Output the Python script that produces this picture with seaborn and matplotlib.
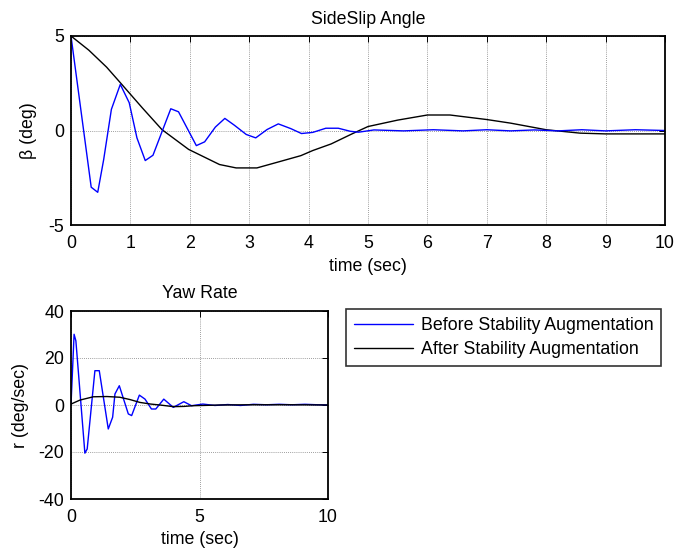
import matplotlib
matplotlib.use("Agg")
import matplotlib.pyplot as plt
import seaborn as sns
import pandas as pd
from matplotlib.lines import Line2D

# Sideslip response (deg) vs time (sec)
t_beta_before = [0, 0.34, 0.45, 0.55, 0.68, 0.83, 0.98, 1.11, 1.25, 1.38, 1.68, 1.81,
                 2.11, 2.25, 2.43, 2.59, 2.75, 2.95, 3.11, 3.30, 3.49, 3.70, 3.88, 4.07,
                 4.29, 4.50, 4.70, 4.84, 5.10, 5.6, 6.1, 6.6, 7.0, 7.4, 7.8, 8.2, 8.6,
                 9.0, 9.5, 10]
beta_before = [5, -3.0, -3.27, -1.54, 1.12, 2.44, 1.47, -0.39, -1.59, -1.31, 1.15, 0.99,
               -0.80, -0.60, 0.18, 0.64, 0.28, -0.21, -0.39, 0.05, 0.35, 0.10, -0.16, -0.10,
               0.12, 0.12, -0.04, -0.09, 0.03, -0.02, 0.04, -0.02, 0.04, -0.02, 0.03, -0.02,
               0.04, -0.02, 0.04, 0]

t_beta_after = [0, 0.3, 0.6, 0.83, 1.2, 1.53, 1.98, 2.5, 2.78, 3.13, 3.53, 3.87, 4.07,
                4.38, 4.73, 5.0, 5.5, 6.0, 6.38, 7.0, 7.4, 8.0, 8.57, 9.0, 10]
beta_after = [5, 4.25, 3.35, 2.53, 1.2, 0.05, -1.0, -1.8, -1.98, -1.98, -1.63, -1.33, -1.06,
              -0.71, -0.18, 0.21, 0.55, 0.82, 0.82, 0.58, 0.39, 0.04, -0.14, -0.18, -0.18]

# Yaw rate response (deg/sec) vs time (sec)
t_r_before = [0, 0.12, 0.19, 0.54, 0.63, 0.93, 1.10, 1.45, 1.62, 1.71, 1.88, 2.23, 2.36,
              2.66, 2.88, 3.13, 3.30, 3.61, 3.98, 4.39, 4.69, 5.13, 5.6, 6.1, 6.6, 7.1,
              7.6, 8.1, 8.6, 9.1, 9.6, 10]
r_before = [0, 30.1, 27.3, -20.5, -18.7, 14.6, 14.6, -10.2, -5.2, 4.7, 8.2, -3.8, -4.5,
            4.2, 2.5, -1.7, -1.7, 2.5, -1.0, 1.4, -0.3, 0.4, -0.2, 0.2, -0.2, 0.3,
            0.1, 0.3, 0.1, 0.3, 0.1, 0]

t_r_after = [0, 0.35, 0.87, 1.4, 1.9, 2.3, 2.68, 3.1, 3.46, 3.98, 4.4, 4.76, 5.8, 7, 8.5, 10]
r_after = [0.4, 2.1, 3.5, 3.6, 3.3, 2.3, 1.1, 0.4, 0.0, -0.7, -0.6, -0.3, 0, 0.1, 0.1, 0]

series_labels = ["Before Stability Augmentation", "After Stability Augmentation"]
series_colors = ["#0000ff", "#000000"]

FS = 12.8

sns.set_style("white")
plt.rcParams["font.family"] = ["Liberation Sans", "DejaVu Sans"]
plt.rcParams["font.size"] = FS
plt.rcParams["axes.unicode_minus"] = False
plt.rcParams["text.color"] = "black"
plt.rcParams["axes.labelcolor"] = "black"

W, H = 676, 550
fig = plt.figure(figsize=(W / 100, H / 100), dpi=100)


def px_axes(left, top, right, bottom):
    return fig.add_axes([left / W, 1 - bottom / H, (right - left) / W, (bottom - top) / H])


def style_axes(ax):
    for s in ax.spines.values():
        s.set_visible(True)
        s.set_color("black")
        s.set_linewidth(1.3)
    ax.tick_params(direction="in", length=4, width=0.7, top=True, right=True,
                   labelsize=FS, colors="black")
    ax.tick_params(axis="x", pad=7.5)
    ax.tick_params(axis="y", pad=5)
    ax.grid(True, color="#7f7f7f", linestyle=(0, (1, 1.5)), linewidth=0.6)
    ax.set_axisbelow(True)


ax1 = px_axes(71, 36, 665, 225)
df_b = pd.DataFrame({"t": t_beta_before, "v": beta_before})
df_a = pd.DataFrame({"t": t_beta_after, "v": beta_after})
sns.lineplot(data=df_a, x="t", y="v", ax=ax1, color=series_colors[1], linewidth=1.0,
             estimator=None, sort=False)
sns.lineplot(data=df_b, x="t", y="v", ax=ax1, color=series_colors[0], linewidth=1.0,
             estimator=None, sort=False)
ax1.set_xlim(0, 10)
ax1.set_ylim(-5, 5)
ax1.set_xticks(range(0, 11))
ax1.set_yticks([-5, 0, 5])
style_axes(ax1)
ax1.set_title("SideSlip Angle", fontsize=FS, pad=9, color="black")
ax1.set_xlabel("time (sec)", fontsize=FS, labelpad=4)
ax1.set_ylabel("β (deg)", fontsize=FS, labelpad=8)

ax2 = px_axes(71, 311, 328, 499)
df_rb = pd.DataFrame({"t": t_r_before, "v": r_before})
df_ra = pd.DataFrame({"t": t_r_after, "v": r_after})
sns.lineplot(data=df_rb, x="t", y="v", ax=ax2, color=series_colors[0], linewidth=1.0,
             estimator=None, sort=False)
sns.lineplot(data=df_ra, x="t", y="v", ax=ax2, color=series_colors[1], linewidth=1.0,
             estimator=None, sort=False)
ax2.set_xlim(0, 10)
ax2.set_ylim(-40, 40)
ax2.set_xticks([0, 5, 10])
ax2.set_yticks([-40, -20, 0, 20, 40])
style_axes(ax2)
ax2.set_title("Yaw Rate", fontsize=FS, pad=9, color="black")
ax2.set_xlabel("time (sec)", fontsize=FS, labelpad=3)
ax2.set_ylabel("r (deg/sec)", fontsize=FS, labelpad=7)

handles = [Line2D([], [], color=c, linewidth=1.0) for c in series_colors]
leg = fig.legend(handles, series_labels, loc="upper left",
                 bbox_to_anchor=(346 / W, 1 - 309 / H), fancybox=False, frameon=True,
                 edgecolor="black", fontsize=FS, handlelength=3.3, handletextpad=0.45,
                 borderpad=0.45, labelspacing=0.4, borderaxespad=0, labelcolor="black")
leg.get_frame().set_linewidth(1.2)

fig.savefig("out.png", dpi=100, facecolor="white")
